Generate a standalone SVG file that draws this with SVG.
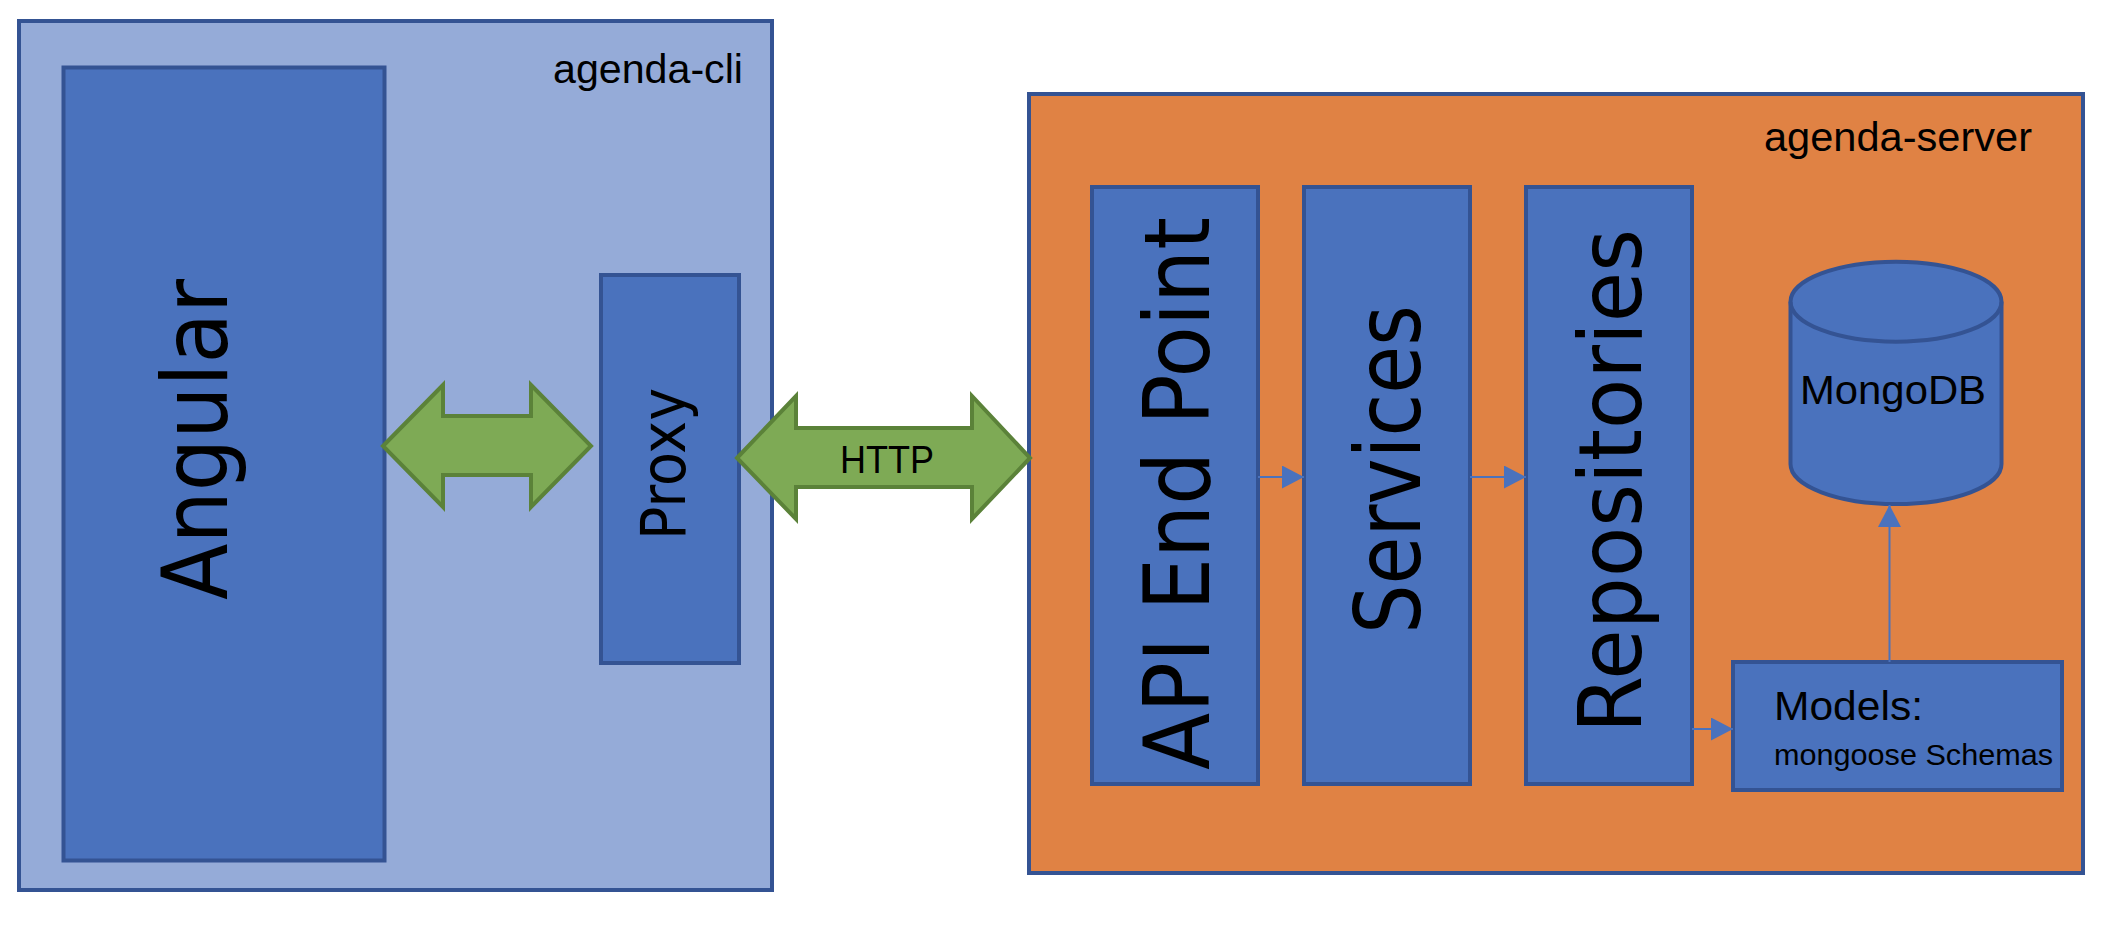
<svg xmlns="http://www.w3.org/2000/svg" width="2120" height="930" viewBox="0 0 2120 930">
<style>
.outer{stroke:#345393;stroke-width:4}
.cli{fill:#95abd8}
.srv{fill:#e08244}
.box{fill:#4a72bd;stroke:#345393;stroke-width:4}
.garrow{fill:#7eaa55;stroke:#5b8239;stroke-width:4;stroke-linejoin:miter}
.conn{stroke:#4a72bd;stroke-width:2;fill:none}
.lbl{font-family:"Liberation Sans",Arial,sans-serif;fill:#000}
.big{font-family:"DejaVu Sans",Verdana,sans-serif;fill:#000}
</style>
<defs>
<marker id="ah" markerUnits="userSpaceOnUse" markerWidth="22" markerHeight="23" refX="22" refY="11.5" orient="auto">
<path d="M0,0 L22,11.5 L0,23 Z" fill="#4a72bd"/>
</marker>
</defs>
<rect width="2120" height="930" fill="#ffffff"/>
<g id="agenda-cli">
<rect class="outer cli" x="19" y="21" width="753" height="869"/>
<text class="lbl" x="553" y="83" font-size="40" textLength="190" lengthAdjust="spacingAndGlyphs">agenda-cli</text>
</g>
<g id="angular">
<rect class="box" x="63.5" y="67.5" width="321" height="793"/>
<text class="big" transform="translate(227,600) rotate(-90)" font-size="90" textLength="321" lengthAdjust="spacingAndGlyphs">Angular</text>
</g>
<g id="proxy">
<rect class="box" x="601" y="275" width="138" height="388"/>
<text class="big" transform="translate(685,540) rotate(-90)" font-size="62" textLength="152" lengthAdjust="spacingAndGlyphs">Proxy</text>
</g>
<g id="agenda-server">
<rect class="outer srv" x="1029" y="94" width="1054" height="779"/>
<text class="lbl" x="1764" y="151" font-size="40" textLength="268" lengthAdjust="spacingAndGlyphs">agenda-server</text>
</g>
<g id="api-end-point">
<rect class="box" x="1092" y="187" width="166" height="597"/>
<text class="big" transform="translate(1209,770) rotate(-90)" font-size="90" textLength="553" lengthAdjust="spacingAndGlyphs">API End Point</text>
</g>
<g id="services">
<rect class="box" x="1304" y="187" width="166" height="597"/>
<text class="big" transform="translate(1420,634) rotate(-90)" font-size="90" textLength="329" lengthAdjust="spacingAndGlyphs">Services</text>
</g>
<g id="repositories">
<rect class="box" x="1526" y="187" width="166" height="597"/>
<text class="big" transform="translate(1641,733) rotate(-90)" font-size="87" textLength="504" lengthAdjust="spacingAndGlyphs">Repositories</text>
</g>
<g id="models">
<rect class="box" x="1733" y="662" width="329" height="128"/>
<text class="lbl" x="1774" y="720" font-size="40" textLength="149" lengthAdjust="spacingAndGlyphs">Models:</text>
<text class="lbl" x="1774" y="765" font-size="30" textLength="279" lengthAdjust="spacingAndGlyphs">mongoose Schemas</text>
</g>
<g id="mongodb">
<path class="box" d="M1790.5,301.7 A105.5,40 0 0 1 2001.5,301.7 V464 A105.5,40 0 0 1 1790.5,464 Z"/>
<path d="M1790.5,301.7 A105.5,40 0 0 0 2001.5,301.7" fill="none" stroke="#345393" stroke-width="4"/>
<text class="lbl" x="1800" y="404" font-size="40" textLength="186" lengthAdjust="spacingAndGlyphs">MongoDB</text>
</g>
<g id="connectors">
<polygon class="garrow" points="383,446 443,385 443,416 531,416 531,385 591,446 531,507 531,475 443,475 443,507"/>
<polygon class="garrow" points="737,458 796,396 796,428 972,428 972,396 1030,458 972,519 972,487 796,487 796,519"/>
<text class="lbl" x="840" y="473" font-size="39" textLength="94" lengthAdjust="spacingAndGlyphs">HTTP</text>
<line class="conn" x1="1258" y1="477" x2="1304" y2="477" marker-end="url(#ah)"/>
<line class="conn" x1="1470" y1="477" x2="1526" y2="477" marker-end="url(#ah)"/>
<line class="conn" x1="1692" y1="729" x2="1733" y2="729" marker-end="url(#ah)"/>
<line class="conn" x1="1889.5" y1="662" x2="1889.5" y2="505" marker-end="url(#ah)"/>
</g>
</svg>
